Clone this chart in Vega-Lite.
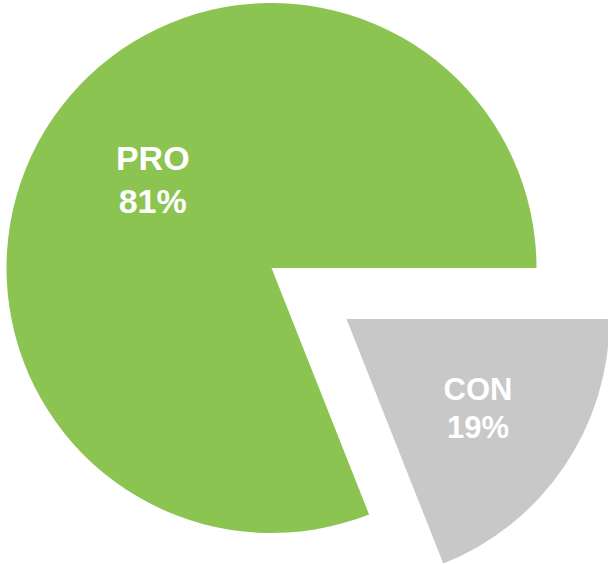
{
  "$schema": "https://vega.github.io/schema/vega-lite/v6.json",
  "width": 608,
  "height": 564,
  "padding": 0,
  "autosize": {"type": "fit", "contains": "padding"},
  "background": "white",
  "config": {"view": {"stroke": null}},
  "data": {
    "values": [
      {"cat": "PRO", "value": 81, "label": "PRO\n81%"},
      {"cat": "CON", "value": 19, "label": "CON\n19%"}
    ]
  },
  "layer": [
    {
      "transform": [
        {"stack": "value", "groupby": [], "sort": [{"field": "cat", "order": "ascending"}], "as": ["v0", "v1"]},
        {"filter": "datum.cat == 'PRO'"}
      ],
      "mark": {"type": "arc", "outerRadius": 265, "xOffset": -31, "yOffset": -14},
      "encoding": {
        "theta": {"field": "v0", "type": "quantitative", "scale": {"domain": [0, 100], "range": [1.5708, 7.85398]}},
        "theta2": {"field": "v1"},
        "color": {"field": "cat", "type": "nominal", "scale": {"domain": ["PRO", "CON"], "range": ["#8bc450", "#c8c8c8"]}, "legend": null}
      }
    },
    {
      "transform": [
        {"stack": "value", "groupby": [], "sort": [{"field": "cat", "order": "ascending"}], "as": ["v0", "v1"]},
        {"filter": "datum.cat == 'CON'"}
      ],
      "mark": {"type": "arc", "outerRadius": 263, "xOffset": 44, "yOffset": 37},
      "encoding": {
        "theta": {"field": "v0", "type": "quantitative", "scale": {"domain": [0, 100], "range": [1.5708, 7.85398]}},
        "theta2": {"field": "v1"},
        "color": {"field": "cat", "type": "nominal", "scale": {"domain": ["PRO", "CON"], "range": ["#8bc450", "#c8c8c8"]}, "legend": null}
      }
    },
    {
      "mark": {"type": "text", "radius": 146, "xOffset": -31, "yOffset": -14, "dx": 2, "dy": -26, "lineBreak": "\n", "lineHeight": 43, "font": "Liberation Sans", "fontWeight": "bold", "fontSize": 34, "color": "white", "align": "center", "baseline": "middle"},
      "encoding": {
        "theta": {"field": "value", "type": "quantitative", "stack": true, "scale": {"domain": [0, 100], "range": [1.5708, 7.85398]}},
        "order": {"field": "cat", "sort": "ascending"},
        "text": {"condition": {"test": "datum.cat == 'PRO'", "field": "label"}, "value": ""}
      }
    },
    {
      "mark": {"type": "text", "radius": 159, "xOffset": 44, "yOffset": 37, "dy": -17, "lineBreak": "\n", "lineHeight": 38, "font": "Liberation Sans", "fontWeight": "bold", "fontSize": 31, "color": "white", "align": "center", "baseline": "middle"},
      "encoding": {
        "theta": {"field": "value", "type": "quantitative", "stack": true, "scale": {"domain": [0, 100], "range": [1.5708, 7.85398]}},
        "order": {"field": "cat", "sort": "ascending"},
        "text": {"condition": {"test": "datum.cat == 'CON'", "field": "label"}, "value": ""}
      }
    }
  ]
}
